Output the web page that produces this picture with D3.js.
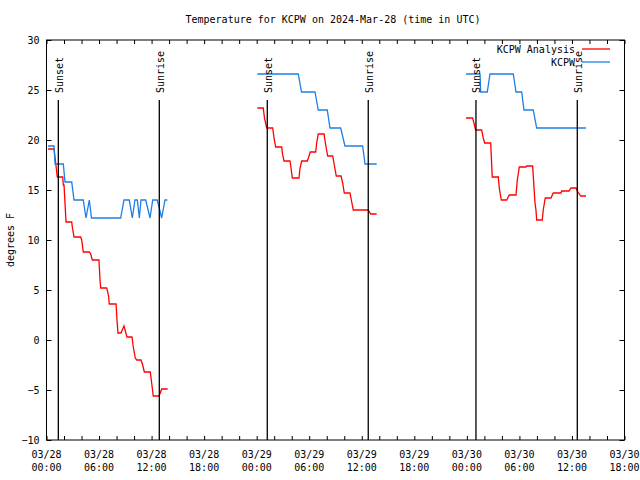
<!DOCTYPE html>
<html><head><meta charset="utf-8">
<script src="https://cdn.jsdelivr.net/npm/d3@7"></script>
<style>
html,body{margin:0;padding:0;background:#fff;}
text{font-family:"DejaVu Sans Mono","Liberation Mono",monospace;font-size:10px;fill:#000;}
</style></head>
<body>
<script>
// ---- data (hours after 2024-03-28 00:00 UTC, temperature in degrees F) ----
const titleText = "Temperature for KCPW on 2024-Mar-28 (time in UTC)";
const yLabel = "degrees F";
const yTicks = [-10,-5,0,5,10,15,20,25,30];
const seriesNames = ["KCPW Analysis","KCPW"];
const seriesColors = ["#ff0000","#1e80e6"];

const anaHours1 = [0.17,0.86,1.05,1.23,1.85,1.92,2.0,2.23,2.88,2.95,3.14,3.9,4.02,4.2,4.89,5.05,5.23,5.99,6.11,6.19,6.87,6.99,7.1,7.17,7.94,7.97,8.05,8.16,8.51,8.7,8.85,9.0,9.19,9.76,9.91,10.14,10.3,10.79,10.98,11.17,11.85,12.01,12.19,12.85,12.99,13.15,13.84];
const anaTemps1 = [19.1,19.1,17.7,16.3,16.3,15.5,15.5,11.8,11.8,11.3,10.3,10.3,10.0,8.8,8.8,8.6,8.0,8.0,6.0,5.2,5.2,4.8,4.3,3.6,3.6,3.2,2.0,0.7,0.7,1.1,1.4,0.9,0.3,0.3,-0.7,-1.8,-2.0,-2.0,-2.5,-3.2,-3.2,-4.3,-5.6,-5.6,-5.3,-4.9,-4.9];
const anaHours2 = [24.07,24.75,24.89,25.14,25.83,25.98,26.17,26.86,26.93,27.12,27.8,27.92,28.07,28.83,28.95,29.14,29.78,29.94,30.12,30.74,30.85,31.03,31.69,31.88,32.11,32.68,32.86,33.09,33.63,33.82,34.0,34.65,34.85,35.03,36.74,37.02,37.7];
const anaTemps2 = [23.2,23.2,22.2,21.2,21.2,20.2,19.3,19.3,18.7,17.9,17.9,17.2,16.2,16.2,17.2,17.9,17.9,18.3,18.8,18.8,19.7,20.6,20.6,19.5,18.4,18.4,17.5,16.4,16.4,15.7,14.7,14.7,13.8,13.0,13.0,12.6,12.6];
const anaHours3 = [47.9,48.66,48.81,49.0,49.69,49.87,50.03,50.72,50.9,51.59,51.7,51.93,52.55,52.84,53.61,53.76,53.99,54.75,54.83,55.51,55.78,55.89,55.97,56.61,56.72,56.95,57.6,57.87,58.75,58.82,59.66,59.89,60.46,60.61,61.0,61.6];
const anaTemps3 = [22.2,22.2,21.7,21.0,21.0,20.2,19.7,19.7,16.3,16.3,15.2,14.0,14.0,14.5,14.5,16.0,17.3,17.3,17.4,17.4,13.7,13.0,12.0,12.0,13.0,14.2,14.2,14.7,14.7,14.9,14.9,15.2,15.2,14.9,14.4,14.4];

const obsHours1 = [0.17,0.86,0.97,1.92,2.11,2.88,3.14,4.2,4.51,4.89,5.14,8.47,8.85,9.45,9.8,10.1,10.37,10.6,10.79,11.33,11.82,12.13,12.65,13.15,13.53,13.8];
const obsTemps1 = [19.4,19.4,17.6,17.6,15.8,15.8,14.0,14.0,12.2,14.0,12.2,12.2,14.0,14.0,12.2,14.0,14.0,12.2,14.0,14.0,12.2,14.0,14.0,12.2,14.0,14.0];
const obsHours2 = [24.07,28.75,29.12,30.66,31.03,32.06,32.37,33.59,34.08,36.1,36.37,37.7];
const obsTemps2 = [26.6,26.6,24.8,24.8,23.0,23.0,21.2,21.2,19.4,19.4,17.6,17.6];
const obsHours3 = [47.9,49.5,49.58,50.33,50.64,53.3,53.61,54.26,54.52,55.58,55.97,61.6];
const obsTemps3 = [26.6,26.6,24.8,24.8,26.6,26.6,24.8,24.8,23.0,23.0,21.2,21.2];

const sunHours = [1.35,12.88,25.21,36.74,49.04,60.61];
const sunLabels = ["Sunset","Sunrise","Sunset","Sunrise","Sunset","Sunrise"];

// ---- drawing ----
const t0 = Date.UTC(2024,2,28);
const toDate = h => new Date(t0 + h*3600e3);
const W = 640, H = 480;
const L = 46.5, R = 624.5, T = 40, B = 440;

const svg = d3.select("body").append("svg").attr("width",W).attr("height",H);
svg.append("rect").attr("width",W).attr("height",H).attr("fill","#fff");

const x = d3.scaleUtc().domain([toDate(0), toDate(66)]).range([L, R]);
const y = d3.scaleLinear().domain([-10,30]).range([B, T]);

// frame
svg.append("rect").attr("x",L).attr("y",T).attr("width",R-L).attr("height",B-T)
  .attr("fill","none").attr("stroke","#000").attr("stroke-width",1);

const minorTicks = d3.utcHour.every(2).range(toDate(0), toDate(66.01));
const majorTicks = d3.utcHour.every(6).range(toDate(0), toDate(66.01));

// x axis bottom
const xb = svg.append("g").attr("transform",`translate(0,${B})`)
  .call(d3.axisBottom(x).tickValues(minorTicks).tickSizeInner(-4).tickSizeOuter(0).tickFormat(""));
xb.select(".domain").remove();
xb.selectAll(".tick line").attr("stroke","#000");
// x axis top (mirror)
const xt = svg.append("g").attr("transform",`translate(0,${T})`)
  .call(d3.axisTop(x).tickValues(minorTicks).tickSizeInner(-4).tickSizeOuter(0).tickFormat(""));
xt.select(".domain").remove();

// two-line x labels
const fmtD = d3.utcFormat("%m/%d"), fmtT = d3.utcFormat("%H:%M");
const xl = svg.append("g").selectAll("text").data(majorTicks).join("text")
  .attr("text-anchor","middle").attr("x", d => x(d));
xl.append("tspan").attr("x", d => x(d)).attr("y",458).text(d => fmtD(d));
xl.append("tspan").attr("x", d => x(d)).attr("y",471).text(d => fmtT(d));

// y axis left
const yl = svg.append("g").attr("transform",`translate(${L},0)`)
  .call(d3.axisLeft(y).tickValues(yTicks).tickSizeInner(-5).tickSizeOuter(0).tickPadding(7).tickFormat(d3.format("d")));
yl.select(".domain").remove();
yl.selectAll("text").style("font-family",'"DejaVu Sans Mono",monospace').style("font-size","10px");
const yr = svg.append("g").attr("transform",`translate(${R},0)`)
  .call(d3.axisRight(y).tickValues(yTicks).tickSizeInner(-5).tickSizeOuter(0).tickFormat(""));
yr.select(".domain").remove();

// title and y label
svg.append("text").attr("x",333).attr("y",23).attr("text-anchor","middle").text(titleText);
svg.append("text").attr("transform","translate(14,240) rotate(-90)").attr("text-anchor","middle").text(yLabel);

// series lines
const line = d3.line().x(d => x(toDate(d[0]))).y(d => y(d[1]));
const zipS = (hs, vs) => hs.map((h,i) => [h, vs[i]]);
const anaSegs = [zipS(anaHours1,anaTemps1), zipS(anaHours2,anaTemps2), zipS(anaHours3,anaTemps3)];
const obsSegs = [zipS(obsHours1,obsTemps1), zipS(obsHours2,obsTemps2), zipS(obsHours3,obsTemps3)];

svg.append("g").selectAll("path").data(anaSegs).join("path")
  .attr("d", line).attr("fill","none").attr("stroke",seriesColors[0]).attr("stroke-width",1.3);
svg.append("g").selectAll("path").data(obsSegs).join("path")
  .attr("d", line).attr("fill","none").attr("stroke",seriesColors[1]).attr("stroke-width",1.3);

// sunrise/sunset lines
const sun = svg.append("g").selectAll("g").data(sunHours).join("g");
sun.append("line").attr("x1", d => x(toDate(d))).attr("x2", d => x(toDate(d)))
  .attr("y1",100).attr("y2",B).attr("stroke","#000").attr("stroke-width",1.3);
sun.append("text").attr("transform", d => `translate(${x(toDate(d))+4.5},93) rotate(-90)`)
  .attr("text-anchor","start").text((d,i) => sunLabels[i]);

// legend
const leg = svg.append("g").selectAll("g").data(seriesNames).join("g")
  .attr("transform", (d,i) => `translate(0,${49 + i*13})`);
leg.append("text").attr("x",575).attr("y",4).attr("text-anchor","end").text(d => d);
leg.append("line").attr("x1",582).attr("x2",610).attr("y1",0).attr("y2",0)
  .attr("stroke",(d,i) => seriesColors[i]).attr("stroke-width",1.3);
</script>
</body></html>
